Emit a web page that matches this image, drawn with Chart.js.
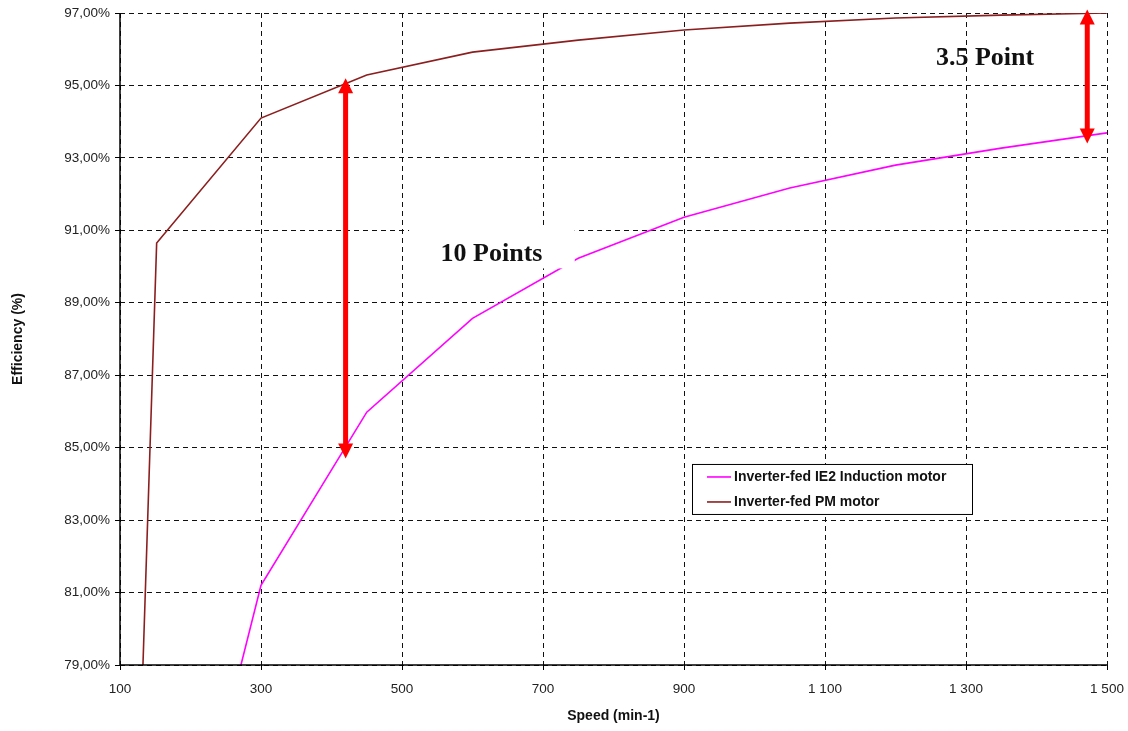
<!DOCTYPE html>
<html>
<head>
<meta charset="utf-8">
<script src="https://cdn.jsdelivr.net/npm/chart.js@4.4.1/dist/chart.umd.min.js"></script>
<style>
  html, body { margin: 0; padding: 0; background: #fff; }
  #wrap { width: 1128px; height: 731px; }
</style>
</head>
<body>
<div id="wrap"><canvas id="myChart" width="1128" height="731"></canvas></div>
<script>
// speeds (min-1)
const imSpeed = [150, 300, 450, 600, 750, 900, 1050, 1200, 1350, 1500];
const imEff = [69.6, 81.2, 85.98, 88.57, 90.23, 91.36, 92.17, 92.8, 93.27, 93.69];

const pmSpeed = [100, 152, 300, 450, 600, 750, 900, 1050, 1200, 1350, 1500];
const pmEff = [59.5, 90.65, 94.1, 95.29, 95.92, 96.25, 96.53, 96.72, 96.86, 96.94, 97.0];

const seriesNames = ['Inverter-fed IE2 Induction motor', 'Inverter-fed PM motor'];
const seriesColors = ['#ff00ff', '#8b1f1f'];

// gap arrows: [speed, from %, to %]
const arrows = [
    [420, 84.7, 95.2],
    [1472, 93.4, 97.1]
];
const arrowLabels = ['10 Points', '3.5 Point'];

const xTicks = [100, 300, 500, 700, 900, 1100, 1300, 1500];

function toXY(xs, ys) {
    return xs.map((x, i) => ({x: x, y: ys[i]}));
}

const data = {
    datasets: [{
        label: seriesNames[0],
        data: toXY(imSpeed, imEff),
        borderColor: seriesColors[0],
        backgroundColor: seriesColors[0],
        borderWidth: 1.6,
        pointRadius: 0,
        tension: 0
    }, {
        label: seriesNames[1],
        data: toXY(pmSpeed, pmEff),
        borderColor: seriesColors[1],
        backgroundColor: seriesColors[1],
        borderWidth: 1.6,
        pointRadius: 0,
        tension: 0
    }]
};

// solid axis lines (grid lines are dashed)
const axisLines = {
    id: 'axisLines',
    afterDatasetsDraw(chart) {
        const ctx = chart.ctx, a = chart.chartArea;
        ctx.save();
        ctx.strokeStyle = '#000';
        ctx.lineWidth = 1.5;
        ctx.setLineDash([]);
        ctx.beginPath();
        ctx.moveTo(a.left, a.top);
        ctx.lineTo(a.left, a.bottom);
        ctx.lineTo(a.right, a.bottom);
        ctx.stroke();
        ctx.restore();
    }
};

// arrows, white text box and the inner legend
const annot = {
    id: 'annot',
    afterDatasetsDraw(chart) {
        const ctx = chart.ctx;
        const xs = chart.scales.x, ys = chart.scales.y;
        ctx.save();

        // white box behind "10 Points"
        ctx.fillStyle = '#fff';
        ctx.fillRect(xs.getPixelForValue(510), ys.getPixelForValue(91.1),
            xs.getPixelForValue(745) - xs.getPixelForValue(510),
            ys.getPixelForValue(89.95) - ys.getPixelForValue(91.1));

        // red double arrows
        arrows.forEach(a => {
            const x = xs.getPixelForValue(a[0]);
            const y1 = ys.getPixelForValue(a[2]);
            const y2 = ys.getPixelForValue(a[1]);
            const head = 15, hw = 7.5;
            ctx.strokeStyle = '#ff0000';
            ctx.fillStyle = '#ff0000';
            ctx.lineWidth = 5;
            ctx.beginPath();
            ctx.moveTo(x, y1 + head - 2);
            ctx.lineTo(x, y2 - head + 2);
            ctx.stroke();
            ctx.beginPath();
            ctx.moveTo(x, y1);
            ctx.lineTo(x - hw, y1 + head);
            ctx.lineTo(x + hw, y1 + head);
            ctx.closePath();
            ctx.fill();
            ctx.beginPath();
            ctx.moveTo(x, y2);
            ctx.lineTo(x - hw, y2 - head);
            ctx.lineTo(x + hw, y2 - head);
            ctx.closePath();
            ctx.fill();
        });

        // labels
        ctx.fillStyle = '#111';
        ctx.font = 'bold 26px "Liberation Serif", "DejaVu Serif", serif';
        ctx.textAlign = 'center';
        ctx.textBaseline = 'middle';
        ctx.fillText(arrowLabels[0], xs.getPixelForValue(627), ys.getPixelForValue(90.35));
        ctx.fillText(arrowLabels[1], xs.getPixelForValue(1327), ys.getPixelForValue(95.75));

        // legend box
        const lx = xs.getPixelForValue(900) + 8, ly = ys.getPixelForValue(84.55);
        const lw = 280, lh = 50;
        ctx.fillStyle = '#fff';
        ctx.fillRect(lx, ly, lw, lh);
        ctx.strokeStyle = '#000';
        ctx.lineWidth = 1;
        ctx.strokeRect(lx + 0.5, ly + 0.5, lw, lh);
        ctx.font = 'bold 14px "Liberation Sans", Arial, sans-serif';
        ctx.textAlign = 'left';
        seriesNames.forEach((n, i) => {
            const yy = ly + 13 + i * 25;
            ctx.strokeStyle = seriesColors[i];
            ctx.lineWidth = 1.6;
            ctx.beginPath();
            ctx.moveTo(lx + 15, yy);
            ctx.lineTo(lx + 39, yy);
            ctx.stroke();
            ctx.fillStyle = '#111';
            ctx.fillText(n, lx + 42, yy);
        });
        ctx.restore();
    }
};

const grid = {
    color: '#111',
    lineWidth: 1,
    tickBorderDash: [],
    tickLength: 5,
    tickColor: '#000',
    drawTicks: true
};
const border = { display: false, color: '#000', width: 1.5, dash: [5, 4] };
const tickFont = { family: '"Liberation Sans", Arial, sans-serif', size: 13.5 };
const titleFont = { family: '"Liberation Sans", Arial, sans-serif', size: 14, weight: 'bold' };

const config = {
    type: 'line',
    data,
    options: {
        responsive: false,
        animation: false,
        layout: { padding: { top: 13, right: 21, left: 0, bottom: 0 } },
        plugins: {
            legend: { display: false },
            tooltip: { enabled: false }
        },
        scales: {
            x: {
                type: 'linear',
                min: 100,
                max: 1500,
                afterBuildTicks: s => { s.ticks = xTicks.map(v => ({value: v})); },
                afterFit: s => { s.height = 66; s.paddingLeft = 0; s.paddingRight = 0; },
                grid: grid,
                border: border,
                ticks: {
                    padding: 11,
                    color: '#222',
                    font: tickFont,
                    callback: v => String(v).replace(/\B(?=(\d{3})+(?!\d))/g, ' ')
                },
                title: {
                    display: true,
                    text: 'Speed (min-1)',
                    color: '#111',
                    font: titleFont,
                    padding: { top: 10, bottom: 6 }
                }
            },
            y: {
                min: 79,
                max: 97,
                afterFit: s => { s.width = 120; s.paddingTop = 0; s.paddingBottom = 0; },
                grid: grid,
                border: border,
                ticks: {
                    stepSize: 2,
                    padding: 5,
                    color: '#222',
                    font: tickFont,
                    callback: v => v.toFixed(2).replace('.', ',') + '%'
                },
                title: {
                    display: true,
                    text: 'Efficiency (%)',
                    color: '#111',
                    font: titleFont,
                    padding: { top: 10, bottom: 0 }
                }
            }
        }
    },
    plugins: [axisLines, annot]
};

var myChart = new Chart(
    document.getElementById('myChart'),
    config
);
</script>
</body>
</html>
